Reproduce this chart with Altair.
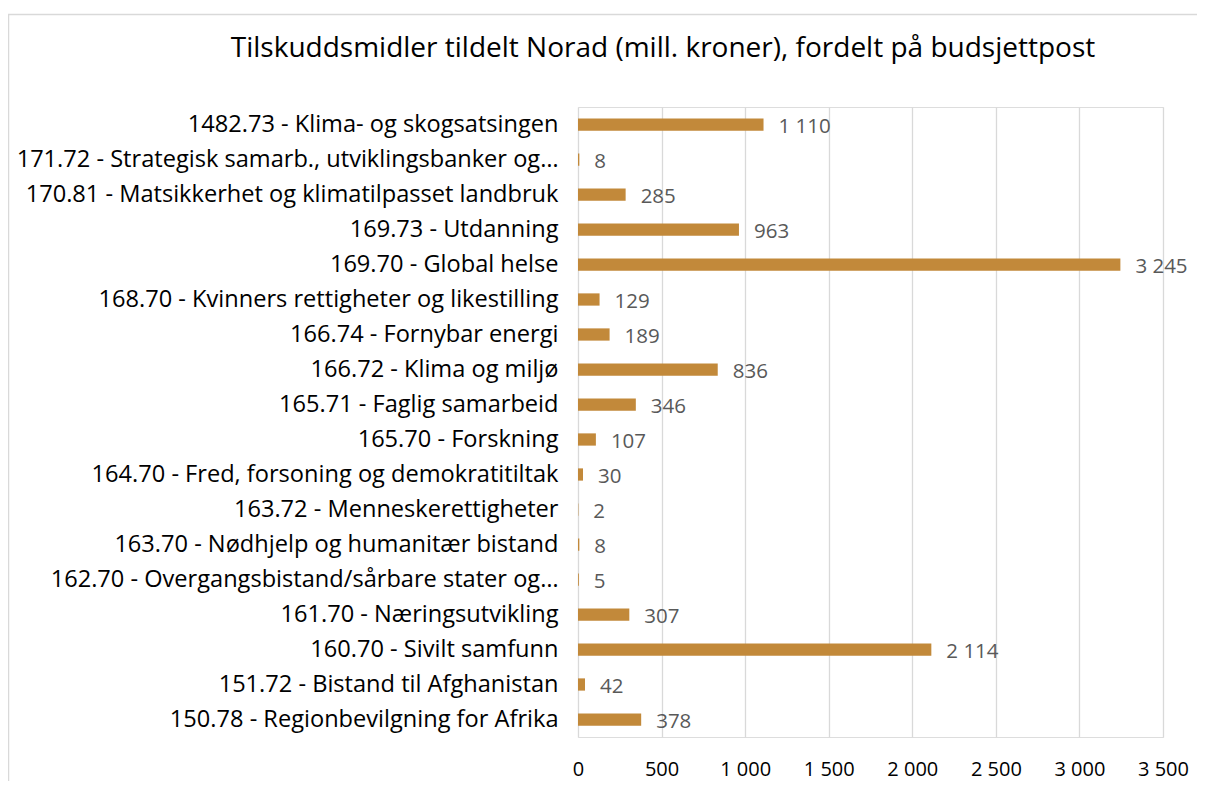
import altair as alt
import pandas as pd

categories = [
    "1482.73 - Klima- og skogsatsingen",
    "171.72 - Strategisk samarb., utviklingsbanker og…",
    "170.81 - Matsikkerhet og klimatilpasset landbruk",
    "169.73 - Utdanning",
    "169.70 - Global helse",
    "168.70 - Kvinners rettigheter og likestilling",
    "166.74 - Fornybar energi",
    "166.72 - Klima og miljø",
    "165.71 - Faglig samarbeid",
    "165.70 - Forskning",
    "164.70 - Fred, forsoning og demokratitiltak",
    "163.72 - Menneskerettigheter",
    "163.70 - Nødhjelp og humanitær bistand",
    "162.70 - Overgangsbistand/sårbare stater og…",
    "161.70 - Næringsutvikling",
    "160.70 - Sivilt samfunn",
    "151.72 - Bistand til  Afghanistan",
    "150.78 - Regionbevilgning for Afrika",
]
values = [1110, 8, 285, 963, 3245, 129, 189, 836, 346, 107, 30, 2, 8, 5, 307, 2114, 42, 378]
x_ticks = [0, 500, 1000, 1500, 2000, 2500, 3000, 3500]
title_text = "Tilskuddsmidler tildelt Norad (mill. kroner), fordelt på budsjettpost"

df = pd.DataFrame({"post": categories, "verdi": values})
one = pd.DataFrame({"t": [title_text]})

FONT = "Open Sans"
BAR = "#C2893A"

base = alt.Chart(df)

y_enc = alt.Y(
    "post:N",
    sort=categories,
    title=None,
    scale=alt.Scale(paddingInner=0.65, paddingOuter=0.325),
    axis=alt.Axis(
        domain=False, ticks=False, grid=False, labelLimit=1000,
        labelPadding=20, labelFont=FONT, labelFontSize=23.6, labelColor="#000000",
    ),
)
x_enc = alt.X(
    "verdi:Q",
    title=None,
    scale=alt.Scale(domain=[0, 3500], nice=False),
    axis=alt.Axis(
        values=x_ticks, domain=False, ticks=False, grid=True, gridColor="#d9d9d9",
        gridWidth=1.3, labelFont=FONT, labelFontSize=20, labelColor="#000000",
        labelPadding=22, labelFlush=False, labelOverlap=False,
        labelExpr="replace(datum.label, ',', ' ')",
    ),
)

bars = base.mark_bar(color=BAR).encode(x=x_enc, y=y_enc)

texts = base.transform_calculate(
    lab="replace(format(datum.verdi, ','), ',', ' ')"
).mark_text(
    align="left", baseline="middle", dx=15, dy=2, font=FONT, fontSize=20.5, color="#595959"
).encode(x="verdi:Q", y=alt.Y("post:N", sort=categories), text="lab:N")

border = alt.Chart(one).mark_rect(
    fill=None, stroke="#d9d9d9", strokeWidth=1.5, clip=False
).encode(
    x=alt.value(-569.5), x2=alt.value(900), y=alt.value(-92.5), y2=alt.value(900)
)

title = alt.Chart(one).mark_text(
    align="center", baseline="middle", font=FONT, fontSize=28, color="#000000", clip=False
).encode(x=alt.value(85), y=alt.value(-58), text="t:N")

chart = alt.layer(border, bars, texts, title).properties(
    width=585,
    height=630,
    autosize=alt.AutoSizeParams(type="none"),
    padding={"left": 570, "top": 99, "right": 34, "bottom": 44},
).configure_view(stroke=None).configure(background="white")

chart.save("out.html", embed_options={"renderer": "svg", "actions": False})
